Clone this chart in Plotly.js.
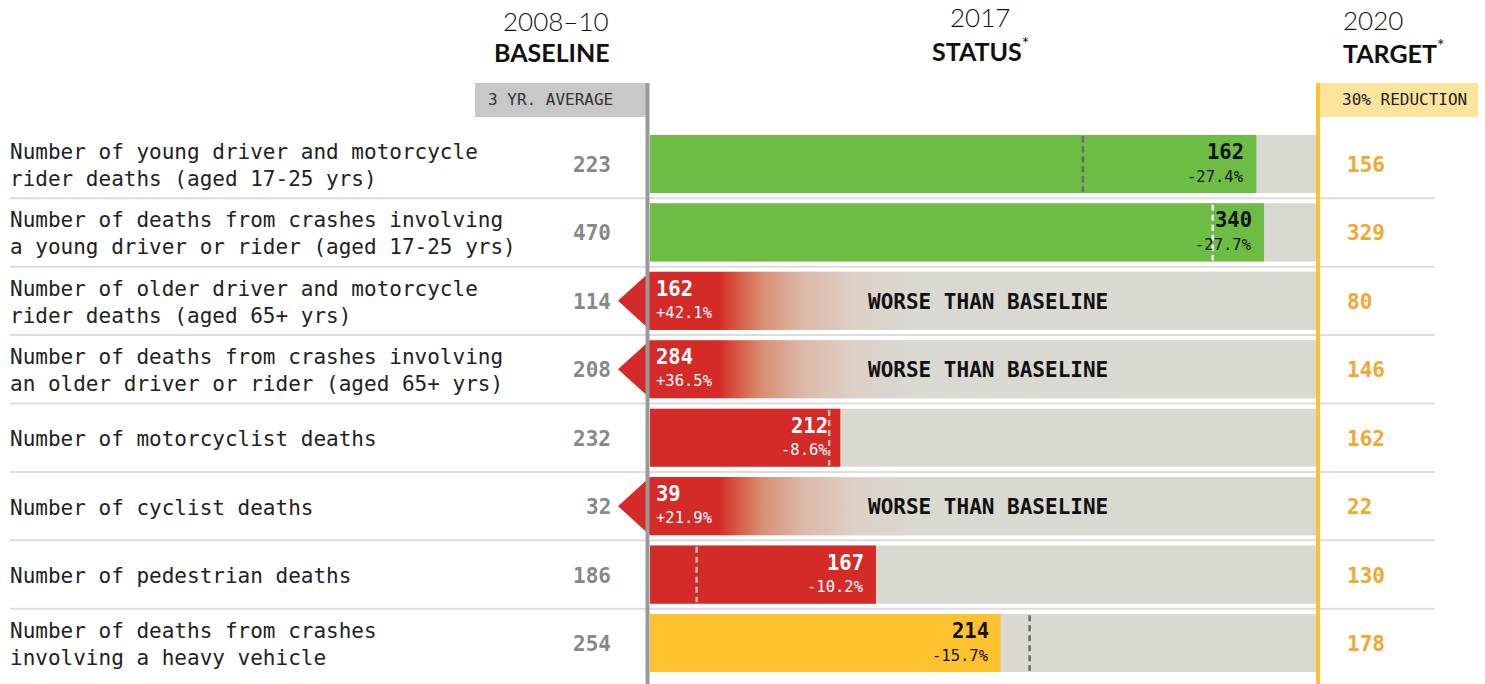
<!DOCTYPE html>
<html>
<head>
<meta charset="utf-8">
<script src="https://cdn.plot.ly/plotly-3.0.1.min.js"></script>
<style>html,body{margin:0;padding:0;background:#fff;}#chart{width:1485px;height:684px;}</style>
</head>
<body>
<div id="chart"></div>
<script>
// ---------- data ----------
const labels = [
  "Number of young driver and motorcycle<br>rider deaths (aged 17-25 yrs)",
  "Number of deaths from crashes involving<br>a young driver or rider (aged 17-25 yrs)",
  "Number of older driver and motorcycle<br>rider deaths (aged 65+ yrs)",
  "Number of deaths from crashes involving<br>an older driver or rider (aged 65+ yrs)",
  "Number of motorcyclist deaths",
  "Number of cyclist deaths",
  "Number of pedestrian deaths",
  "Number of deaths from crashes<br>involving a heavy vehicle"
];
const baseline = [223, 470, 114, 208, 232, 32, 186, 254];
const status2017 = [162, 340, 162, 284, 212, 39, 167, 214];
const target2020 = [156, 329, 80, 146, 162, 22, 130, 178];
const changeLabels = ["-27.4%", "-27.7%", "+42.1%", "+36.5%", "-8.6%", "+21.9%", "-10.2%", "-15.7%"];
// expected share of the reduction by 2017 (dashed marker), estimated
const onTrack = [0.65, 0.845, null, null, 0.269, null, 0.07, 0.57];
const statusClass = ["good", "good", "worse", "worse", "bad", "worse", "bad", "fair"];

// ---------- styles ----------
const W = 1485, H = 684, X0 = 650, X1 = 1316;
const classColor = {good: "#6dbd45", bad: "#d42b28", fair: "#fdc22d", worse: "#d42b28"};
const classText = {good: "#111", bad: "#fff", fair: "#111", worse: "#fff"};
const dashColor = ["#666", "#fff", null, null, "#bbb", null, "#bbb", "#666"];
const GRAY = "#d9d8d1";
const MONO = "DejaVu Sans Mono, Liberation Mono, monospace";
const SANS = "Lato, Inter, Roboto, sans-serif";
const barW = 0.85;

const n = labels.length;
const rows = labels.map((_, i) => i);
const progress = baseline.map((b, i) => (b - status2017[i]) / (b - target2020[i]));
const span = X1 - X0;
const px = p => p / W;               // paper x from pixel
const py = p => 1 - p / H;           // paper y from pixel

const traces = [];
// background (target) bar
traces.push({
  type: "bar", orientation: "h", y: rows, x: rows.map(() => 1), base: 0,
  width: barW, marker: {color: GRAY, line: {width: 0}}, hoverinfo: "skip", showlegend: false
});
// progress bars
traces.push({
  type: "bar", orientation: "h", y: rows,
  x: progress.map((p, i) => statusClass[i] === "worse" ? null : p), base: 0,
  width: barW, marker: {color: statusClass.map(c => classColor[c]), line: {width: 0}},
  hoverinfo: "skip", showlegend: false
});
// worse-than-baseline arrows with gradient
const tip = -32 / span;
rows.forEach(i => {
  if (statusClass[i] !== "worse") return;
  const h = barW / 2;
  traces.push({
    type: "scatter", mode: "lines", hoverinfo: "skip", showlegend: false,
    x: [tip, 0, 1, 1, 0, tip], y: [i, i - h, i - h, i + h, i + h, i],
    fill: "toself", line: {width: 0},
    fillgradient: {
      type: "horizontal", start: tip, stop: 1,
      colorscale: [[0, "#d42b28"], [0.145, "#d42b28"], [0.168, "#d5553f"], [0.208, "#da8f75"],
                   [0.262, "#dcb7a7"], [0.335, "#ddcfc5"], [0.415, GRAY], [1, GRAY]]
    }
  });
});

const shapes = [];
// row separators
for (let i = 0; i < n - 1; i++) {
  shapes.push({type: "line", xref: "paper", yref: "y", x0: px(10), x1: px(1435), y0: i + 0.5, y1: i + 0.5,
    line: {color: "#dcdcdc", width: 2}, layer: "below"});
}
// dashed on-track markers
rows.forEach(i => {
  if (onTrack[i] == null) return;
  shapes.push({type: "line", xref: "x", yref: "y", x0: onTrack[i], x1: onTrack[i], y0: i - barW / 2 + 0.02, y1: i + barW / 2 - 0.02,
    line: {color: dashColor[i], width: 2.5, dash: "6px,4px"}});
});
// header boxes & vertical lines
shapes.push({type: "rect", xref: "paper", yref: "paper", x0: px(475), x1: px(646), y0: py(117), y1: py(83),
  fillcolor: "#c8c8c8", line: {width: 0}});
shapes.push({type: "rect", xref: "paper", yref: "paper", x0: px(1318), x1: px(1478), y0: py(117), y1: py(83),
  fillcolor: "#fde49c", line: {width: 0}});
shapes.push({type: "line", xref: "paper", yref: "paper", x0: px(647.5), x1: px(647.5), y0: py(83), y1: 0,
  line: {color: "#999", width: 4}});
shapes.push({type: "line", xref: "paper", yref: "paper", x0: px(1318), x1: px(1318), y0: py(83), y1: 0,
  line: {color: "#fdc22d", width: 4}});

const ann = [];
const A = o => ann.push(Object.assign({showarrow: false, xref: "paper", yref: "y"}, o));
rows.forEach(i => {
  A({x: px(8), y: i, yshift: -1.5, xanchor: "left", yanchor: "middle", align: "left", text: labels[i],
     font: {family: MONO, size: 21, color: "#222"}});
  A({x: px(613), y: i, yshift: -1, xanchor: "right", yanchor: "middle", text: "<b>" + baseline[i] + "</b>",
     font: {family: MONO, size: 21, color: "#888"}});
  A({x: px(1345), y: i, yshift: -1, xanchor: "left", yanchor: "middle", text: "<b>" + target2020[i] + "</b>",
     font: {family: MONO, size: 21, color: "#f0a830"}});
  const c = statusClass[i];
  if (c === "worse") {
    A({xref: "x", x: 0, y: i, yshift: 12, xanchor: "left", yanchor: "middle", xshift: 4,
       text: "<b>" + status2017[i] + "</b>", font: {family: MONO, size: 20.5, color: "#fff"}});
    A({xref: "x", x: 0, y: i, yshift: -12, xanchor: "left", yanchor: "middle", xshift: 4,
       text: changeLabels[i], font: {family: MONO, size: 15.5, color: "#fff"}});
    A({xref: "x", x: 0.5, y: i, xshift: 5, yshift: -1, xanchor: "center", yanchor: "middle",
       text: "<b>WORSE THAN BASELINE</b>", font: {family: MONO, size: 21, color: "#111"}});
  } else {
    A({xref: "x", x: progress[i], y: i, yshift: 12, xshift: -10, xanchor: "right", yanchor: "middle",
       text: "<b>" + status2017[i] + "</b>", font: {family: MONO, size: 20.5, color: classText[c]}});
    A({xref: "x", x: progress[i], y: i, yshift: -12.5, xshift: -10, xanchor: "right", yanchor: "middle",
       text: changeLabels[i], font: {family: MONO, size: 15.5, color: classText[c]}});
  }
});
const P = o => ann.push(Object.assign({showarrow: false, xref: "paper", yref: "paper", yanchor: "middle"}, o));
P({x: px(611), y: py(21), xanchor: "right", text: "2008–10", font: {family: SANS, size: 26, color: "#111", weight: 300}});
P({x: px(612), y: py(52), xanchor: "right", text: "<b>BASELINE</b>", font: {family: SANS, size: 25, color: "#111"}});
P({x: px(980), y: py(17), xanchor: "center", text: "2017", font: {family: SANS, size: 26, color: "#111", weight: 300}});
P({x: px(980), y: py(49), xanchor: "center", text: "<b>STATUS</b><sup>*</sup>", font: {family: SANS, size: 25, color: "#111"}});
P({x: px(1341), y: py(20), xanchor: "left", text: "2020", font: {family: SANS, size: 26, color: "#111", weight: 300}});
P({x: px(1341), y: py(52), xanchor: "left", text: "<b>TARGET</b><sup>*</sup>", font: {family: SANS, size: 25, color: "#111"}});
P({x: px(486), y: py(100), xanchor: "left", text: "3 YR. AVERAGE", font: {family: MONO, size: 16, color: "#333"}});
P({x: px(1340), y: py(100), xanchor: "left", text: "30% REDUCTION", font: {family: MONO, size: 16, color: "#222"}});

const rowPx = (643 - 164) / 7;
const layout = {
  width: W, height: H, margin: {l: 0, r: 0, t: 0, b: 0},
  paper_bgcolor: "#fff", plot_bgcolor: "#fff", barmode: "overlay", showlegend: false,
  xaxis: {range: [-X0 / span, (W - X0) / span], visible: false, fixedrange: true},
  yaxis: {range: [(H - 164) / rowPx, -164 / rowPx], visible: false, fixedrange: true},
  shapes: shapes, annotations: ann
};
Plotly.newPlot("chart", traces, layout, {displayModeBar: false, staticPlot: true});
</script>
</body>
</html>
